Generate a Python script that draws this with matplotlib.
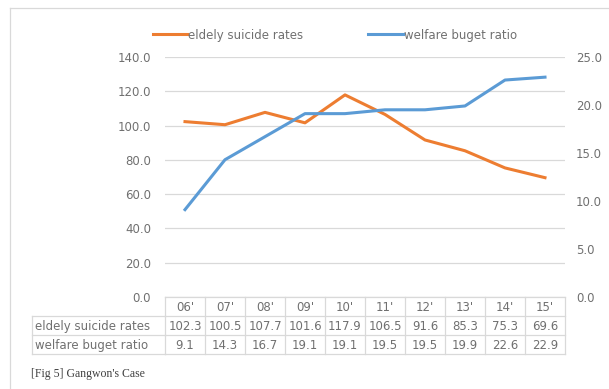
import matplotlib
matplotlib.use("Agg")
import matplotlib.pyplot as plt
from matplotlib.lines import Line2D
from matplotlib.transforms import blended_transform_factory

years = ["06'", "07'", "08'", "09'", "10'", "11'", "12'", "13'", "14'", "15'"]
suicide_rates = [102.3, 100.5, 107.7, 101.6, 117.9, 106.5, 91.6, 85.3, 75.3, 69.6]
welfare_ratio = [9.1, 14.3, 16.7, 19.1, 19.1, 19.5, 19.5, 19.9, 22.6, 22.9]
left_ticks = [0, 20, 40, 60, 80, 100, 120, 140]
right_ticks = [0, 5, 10, 15, 20, 25]
row_names = ["eldely suicide rates", "welfare buget ratio"]

orange = "#ED7D31"
blue = "#5B9BD5"
grid_c = "#d9d9d9"
text_c = "#707070"
fs = 8.5

W, H = 609, 389
fig = plt.figure(figsize=(W / 100, H / 100), dpi=100)
ax = fig.add_axes([165 / W, 1 - 297 / H, 400 / W, 240 / H])
ax2 = ax.twinx()

x = list(range(len(years)))
l1, = ax.plot(x, suicide_rates, color=orange, lw=2.2, label=row_names[0], zorder=3)
l2, = ax2.plot(x, welfare_ratio, color=blue, lw=2.2, label=row_names[1], zorder=3)

ax.set_xlim(-0.5, len(years) - 0.5)
ax.set_ylim(0, 140)
ax2.set_ylim(0, 25)
ax.set_yticks(left_ticks)
ax.set_yticklabels([f"{v:.1f}" for v in left_ticks])
ax2.set_yticks(right_ticks)
ax2.set_yticklabels([f"{v:.1f}" for v in right_ticks])
ax.set_xticks([])
ax.grid(axis="y", color=grid_c, lw=0.9)
ax.set_axisbelow(True)
for a in (ax, ax2):
    for s in a.spines.values():
        s.set_visible(False)
    a.tick_params(axis="y", length=0, labelsize=fs, labelcolor=text_c)
ax.tick_params(axis="y", pad=10)
ax2.tick_params(axis="y", pad=8)

# data table under the plot
row_h = 19 / 240
tr = blended_transform_factory(ax.transData, ax.transAxes)
trf = blended_transform_factory(fig.transFigure, ax.transAxes)
label_left = 32 / W
n = len(years)

def hline(x0, x1, y, t):
    ax.add_line(Line2D([x0, x1], [y, y], transform=t, color=grid_c, lw=0.9, clip_on=False))

def vline(xv, y0, y1, t):
    ax.add_line(Line2D([xv, xv], [y0, y1], transform=t, color=grid_c, lw=0.9, clip_on=False))

hline(-0.5, n - 0.5, 0, tr)
for r in range(1, 4):
    hline(-0.5, n - 0.5, -r * row_h, tr)
    hline(label_left, 165 / W, -r * row_h, trf)
for i in range(n + 1):
    vline(i - 0.5, 0, -3 * row_h, tr)
vline(label_left, -row_h, -3 * row_h, trf)

rows = [years, [f"{v:.1f}" for v in suicide_rates], [f"{v:.1f}" for v in welfare_ratio]]
for r, vals in enumerate(rows):
    yc = -(r + 0.5) * row_h - 0.004
    for i, v in enumerate(vals):
        ax.text(i, yc, v, transform=tr, ha="center", va="center", fontsize=fs, color=text_c)
for r, name in enumerate(row_names):
    yc = -(r + 1.5) * row_h - 0.004
    ax.text(label_left + 3 / W, yc, name, transform=trf, ha="left", va="center",
            fontsize=fs, color=text_c)

# legend
fig.legend(handles=[l1, l2], loc="center", bbox_to_anchor=(335 / W, 1 - 35 / H),
           ncol=2, frameon=False, fontsize=fs, labelcolor=text_c, handlelength=2.9,
           handletextpad=0.1, columnspacing=5.5)

# outer border
fig.add_artist(Line2D([10 / W, 10 / W], [0, 1 - 8 / H], transform=fig.transFigure, color=grid_c, lw=0.9))
fig.add_artist(Line2D([10 / W, 1], [1 - 8 / H, 1 - 8 / H], transform=fig.transFigure, color=grid_c, lw=0.9))

fig.text(31 / W, 1 - 374 / H, "[Fig 5] Gangwon's Case", family="Liberation Serif",
         fontsize=8.5, color="#404040", ha="left", va="center")

fig.savefig("out.png", dpi=100)
